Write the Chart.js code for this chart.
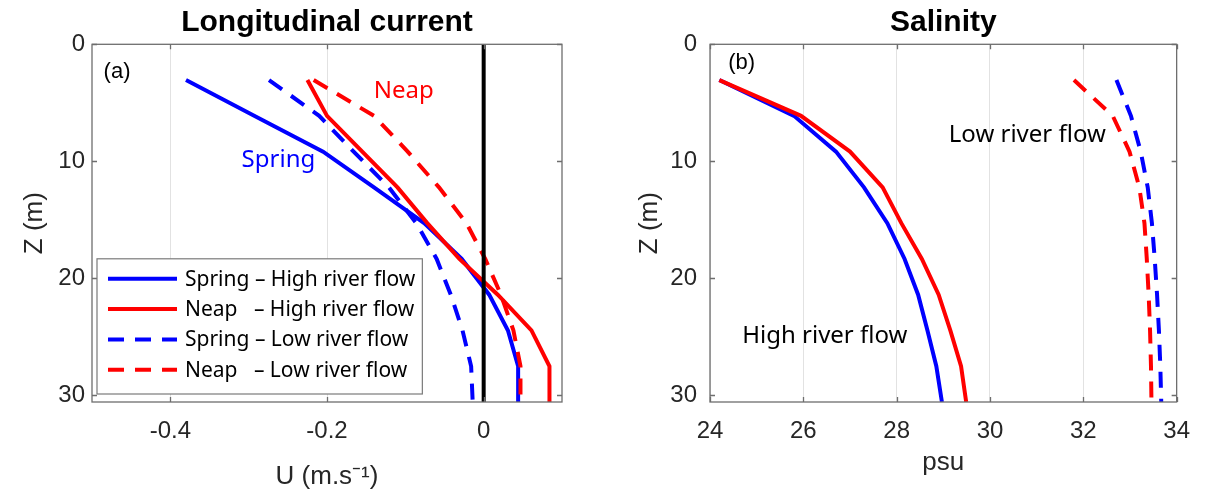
<!DOCTYPE html>
<html>
<head>
<meta charset="utf-8">
<title>Longitudinal current and salinity</title>
<script src="https://cdn.jsdelivr.net/npm/chart.js@4.4.1/dist/chart.umd.min.js"></script>
<style>
	html, body { margin: 0; padding: 0; background: #fff; }
	#wrap { position: relative; width: 1205px; height: 498px; }
	.panel { position: absolute; top: 0; height: 498px; }
</style>
</head>
<body>
<div id="wrap">
	<div class="panel" style="left:0;width:600px"><canvas id="currentChart" width="600" height="498"></canvas></div>
	<div class="panel" style="left:600px;width:605px"><canvas id="salinityChart" width="605" height="498"></canvas></div>
</div>
<script>
// depth of each model layer (m)
const depth = [3.06, 6.12, 9.18, 12.24, 15.3, 18.36, 21.42, 24.48, 27.54, 30.6];
const depthRange = [0, 30.6];
const depthTicks = [0, 10, 20, 30];

// (a) longitudinal current U (m/s)
const uSpringHigh = [-0.38, -0.293, -0.205, -0.14, -0.076, -0.028, 0.007, 0.031, 0.044, 0.044];
const uNeapHigh = [-0.225, -0.2, -0.155, -0.11, -0.072, -0.031, 0.018, 0.061, 0.084, 0.084];
const uSpringLow = [-0.274, -0.21, -0.166, -0.121, -0.086, -0.06, -0.042, -0.027, -0.016, -0.014];
const uNeapLow = [-0.217, -0.14, -0.097, -0.057, -0.022, 0.002, 0.022, 0.038, 0.047, 0.047];
const uRange = [-0.5, 0.1];
const uTicks = [-0.4, -0.2, 0];

// (b) salinity (psu)
const sSpringHigh = [24.2, 25.8, 26.7, 27.3, 27.8, 28.17, 28.46, 28.66, 28.85, 28.97];
const sNeapHigh = [24.2, 25.95, 27.0, 27.7, 28.1, 28.54, 28.9, 29.15, 29.38, 29.49];
const sSpringLow = [32.71, 33.02, 33.23, 33.38, 33.47, 33.53, 33.58, 33.62, 33.65, 33.67];
const sNeapLow = [31.8, 32.63, 32.99, 33.2, 33.31, 33.36, 33.4, 33.43, 33.45, 33.46];
const sRange = [24, 34];
const sTicks = [24, 26, 28, 30, 32, 34];

const seriesLabels = ["Spring \u2013 High river flow", "Neap   \u2013 High river flow", "Spring \u2013 Low river flow", "Neap   \u2013 Low river flow"];

const BLUE = "#0000ff";
const RED = "#ff0000";
const AXIS_FONT = "Liberation Sans";
const NOTE_FONT = "Noto Sans";

function profile(values) {
	return depth.map((z, i) => ({ x: values[i], y: z }));
}

function seriesSet(sets) {
	const colors = [BLUE, RED, BLUE, RED];
	return sets.map((values, i) => ({
		label: seriesLabels[i],
		data: profile(values),
		showLine: true,
		borderColor: colors[i],
		backgroundColor: colors[i],
		borderWidth: 4,
		borderDash: i < 2 ? [] : [16, 11],
		pointRadius: 0,
		order: 4 - i
	}));
}

// box, inner ticks, text notes and the in-plot legend
const framePlugin = {
	id: "frame",
	afterDatasetsDraw(chart, args, opts) {
		const { ctx, chartArea: a, scales: { x, y } } = chart;
		ctx.save();
		ctx.strokeStyle = "#6e6e6e";
		ctx.lineWidth = 1.3;
		ctx.beginPath();
		x.ticks.forEach(t => {
			const px = Math.round(x.getPixelForValue(t.value)) + 0.5;
			ctx.moveTo(px, a.bottom); ctx.lineTo(px, a.bottom - 5);
			ctx.moveTo(px, a.top); ctx.lineTo(px, a.top + 5);
		});
		y.ticks.forEach(t => {
			const py = Math.round(y.getPixelForValue(t.value)) + 0.5;
			ctx.moveTo(a.left, py); ctx.lineTo(a.left + 5, py);
			ctx.moveTo(a.right, py); ctx.lineTo(a.right - 5, py);
		});
		ctx.stroke();
		ctx.strokeRect(a.left, a.top, a.width, a.height);

		ctx.textAlign = "center";
		ctx.textBaseline = "middle";
		(opts.notes || []).forEach(n => {
			ctx.font = n.font;
			ctx.fillStyle = n.color;
			ctx.fillText(n.text, x.getPixelForValue(n.x), y.getPixelForValue(n.y));
		});

		if (opts.legend) {
			const sets = chart.data.datasets.filter(d => d.label);
			ctx.font = "21px " + NOTE_FONT;
			const textW = Math.max(...sets.map(d => ctx.measureText(d.label).width));
			const rowH = 30.3;
			const w = 88 + textW + 7;
			const h = rowH * sets.length + 14;
			const left = a.left + 5;
			const top = a.bottom - 8 - h;
			ctx.fillStyle = "#fff";
			ctx.fillRect(left, top, w, h);
			ctx.strokeStyle = "#7a7a7a";
			ctx.lineWidth = 1.2;
			ctx.strokeRect(left, top, w, h);
			ctx.textAlign = "left";
			sets.forEach((d, i) => {
				const cy = top + 20 + i * rowH;
				ctx.strokeStyle = d.borderColor;
				ctx.lineWidth = 4;
				ctx.setLineDash(d.borderDash || []);
				ctx.beginPath();
				ctx.moveTo(left + 11, cy);
				ctx.lineTo(left + 80, cy);
				ctx.stroke();
				ctx.setLineDash([]);
				ctx.fillStyle = "#000";
				ctx.fillText(d.label, left + 88, cy + 1);
			});
		}
		ctx.restore();
	}
};

function panelOptions(cfg) {
	return {
		responsive: false,
		animation: false,
		events: [],
		layout: { padding: { left: 0, right: cfg.padRight, top: 0, bottom: 0 } },
		plugins: {
			legend: { display: false },
			tooltip: { enabled: false },
			title: {
				display: true,
				fullSize: false,
				text: cfg.title,
				color: "#000",
				font: { family: AXIS_FONT, size: 30, weight: "bold" },
				padding: { top: 4.5, bottom: 3.8 }
			},
			frame: { notes: cfg.notes, legend: cfg.legend }
		},
		scales: {
			x: {
				type: "linear",
				min: cfg.xRange[0],
				max: cfg.xRange[1],
				afterBuildTicks: s => { s.ticks = cfg.xTicks.map(v => ({ value: v })); },
				afterFit: s => { s.height = 96; },
				border: { display: false },
				grid: { color: "#e2e2e2", lineWidth: 1, drawTicks: false },
				ticks: {
					padding: 15,
					color: "#262626",
					font: { family: AXIS_FONT, size: 24 },
					callback: cfg.xFormat
				},
				title: {
					display: true,
					text: cfg.xTitle,
					color: "#262626",
					font: { family: AXIS_FONT, size: 26 },
					padding: { top: 0, bottom: cfg.xTitlePad }
				}
			},
			y: {
				type: "linear",
				reverse: true,
				min: depthRange[0],
				max: depthRange[1],
				afterBuildTicks: s => { s.ticks = depthTicks.map(v => ({ value: v })); },
				afterFit: s => { s.width = cfg.yWidth; },
				border: { display: false },
				grid: { display: false, drawTicks: false },
				ticks: {
					padding: cfg.yTickPad,
					color: "#262626",
					font: { family: AXIS_FONT, size: 24 },
					callback: v => String(v)
				},
				title: {
					display: true,
					text: "Z (m)",
					color: "#262626",
					font: { family: AXIS_FONT, size: 26 },
					padding: { top: cfg.yTitlePad, bottom: 0 }
				}
			}
		}
	};
}

// (a) Longitudinal current
const currentSets = seriesSet([uSpringHigh, uNeapHigh, uSpringLow, uNeapLow]);
currentSets.push({
	data: [{ x: 0, y: depthRange[0] }, { x: 0, y: depthRange[1] }],
	showLine: true,
	borderColor: "#000",
	borderWidth: 4,
	pointRadius: 0,
	order: 0
});

new Chart(document.getElementById("currentChart"), {
	type: "scatter",
	data: { datasets: currentSets },
	options: panelOptions({
		title: "Longitudinal current",
		padRight: 38,
		yWidth: 92,
		yTickPad: 7,
		yTitlePad: 19,
		xRange: uRange,
		xTicks: uTicks,
		xFormat: v => (v === 0 ? "0" : v.toFixed(1)),
		xTitle: "U (m.s\u207B\u00B9)",
		xTitlePad: 6,
		legend: true,
		notes: [
			{ text: "(a)", x: -0.468, y: 2.35, color: "#000", font: "22px " + AXIS_FONT },
			{ text: "Spring", x: -0.262, y: 9.9, color: BLUE, font: "24px " + NOTE_FONT },
			{ text: "Neap", x: -0.102, y: 4.0, color: RED, font: "24px " + NOTE_FONT }
		]
	}),
	plugins: [framePlugin]
});

// (b) Salinity
new Chart(document.getElementById("salinityChart"), {
	type: "scatter",
	data: { datasets: seriesSet([sSpringHigh, sNeapHigh, sSpringLow, sNeapLow]) },
	options: panelOptions({
		title: "Salinity",
		padRight: 24,
		yWidth: 110,
		yTickPad: 13,
		yTitlePad: 34,
		xRange: sRange,
		xTicks: sTicks,
		xFormat: v => String(v),
		xTitle: "psu",
		xTitlePad: 20,
		legend: false,
		notes: [
			{ text: "(b)", x: 24.68, y: 1.6, color: "#000", font: "22px " + AXIS_FONT },
			{ text: "Low river flow", x: 30.8, y: 7.8, color: "#000", font: "24px " + NOTE_FONT },
			{ text: "High river flow", x: 26.46, y: 25.0, color: "#000", font: "24px " + NOTE_FONT }
		]
	}),
	plugins: [framePlugin]
});
</script>
</body>
</html>
